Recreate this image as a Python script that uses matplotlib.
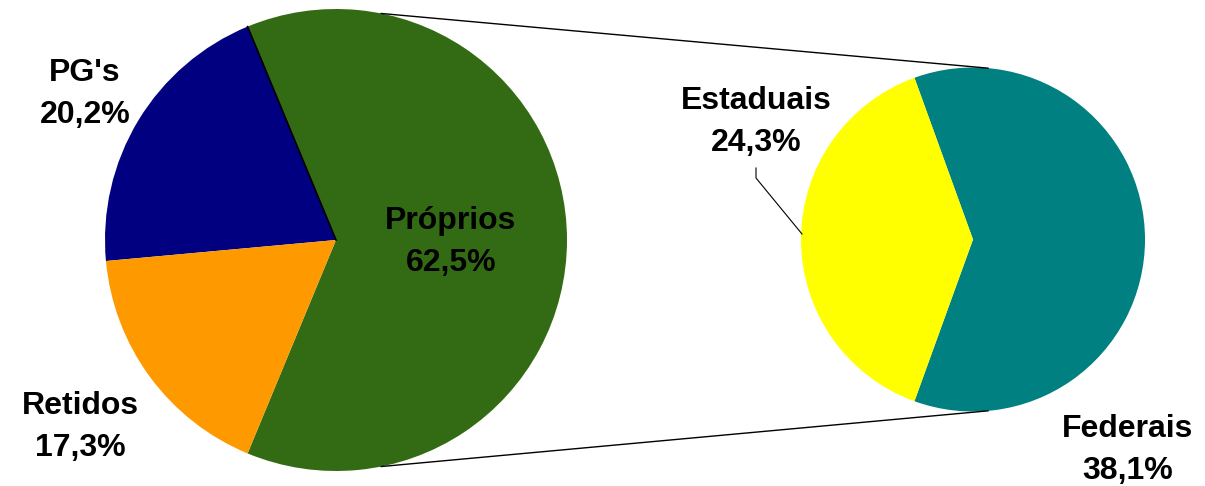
import numpy as np
import matplotlib.pyplot as plt

# Dados
main_labels = ["Próprios", "PG's", "Retidos"]
main_values = [62.5, 20.2, 17.3]
main_colors = ["#336B14", "#000080", "#FF9900"]

sub_labels = ["Federais", "Estaduais"]
sub_values = [38.1, 24.3]
sub_colors = ["#008080", "#FFFF00"]

W, H = 1205, 486
fig = plt.figure(figsize=(W / 100, H / 100), dpi=100)
ax = fig.add_axes([0, 0, 1, 1])

c1, r1 = (336, 246), 231
c2, r2 = (973, 246.5), 172

# pizza principal
start1 = -360 * main_values[0] / sum(main_values) / 2
w1, _ = ax.pie(main_values, colors=main_colors, startangle=start1,
               center=c1, radius=r1, wedgeprops=dict(linewidth=0))
# pizza secundaria (detalhe de Proprios)
start2 = -360 * sub_values[0] / sum(sub_values) / 2
w2, _ = ax.pie(sub_values, colors=sub_colors, startangle=start2,
               center=c2, radius=r2, wedgeprops=dict(linewidth=0))

# linha preta entre PG's e Proprios
t = np.deg2rad(w1[1].theta1)
ax.plot([c1[0], c1[0] + r1 * np.cos(t)], [c1[1], c1[1] + r1 * np.sin(t)],
        color='black', lw=1.2, zorder=3)

# linhas de ligacao
for s in (1, -1):
    a1, a2 = np.deg2rad(78.7 * s), np.deg2rad(85 * s)
    ax.plot([c1[0] + r1 * np.cos(a1), c2[0] + r2 * np.cos(a2)],
            [c1[1] + r1 * np.sin(a1), c2[1] + r2 * np.sin(a2)],
            color='black', lw=1, zorder=1)

# linha guia de Estaduais
ax.plot([756, 756, 802], [318, 308, 252], color='black', lw=0.8)


def fmt(name, v):
    return f"{name}\n{v:.1f}".replace('.', ',') + "%"


font = dict(family='Liberation Sans', weight='bold', fontsize=23,
            ha='center', va='center', linespacing=1.5)
pos_main = [(451, 244), (85, 392), (80, 59)]
for lab, v, p in zip(main_labels, main_values, pos_main):
    ax.text(p[0], p[1], fmt(lab, v), **font)
pos_sub = [(1128, 36), (756, 364)]
for lab, v, p in zip(sub_labels, sub_values, pos_sub):
    ax.text(p[0], p[1], fmt(lab, v), **font)

ax.set_xlim(0, W)
ax.set_ylim(0, H)
ax.set_aspect('equal')
ax.axis('off')
fig.savefig('out.png', dpi=100)
